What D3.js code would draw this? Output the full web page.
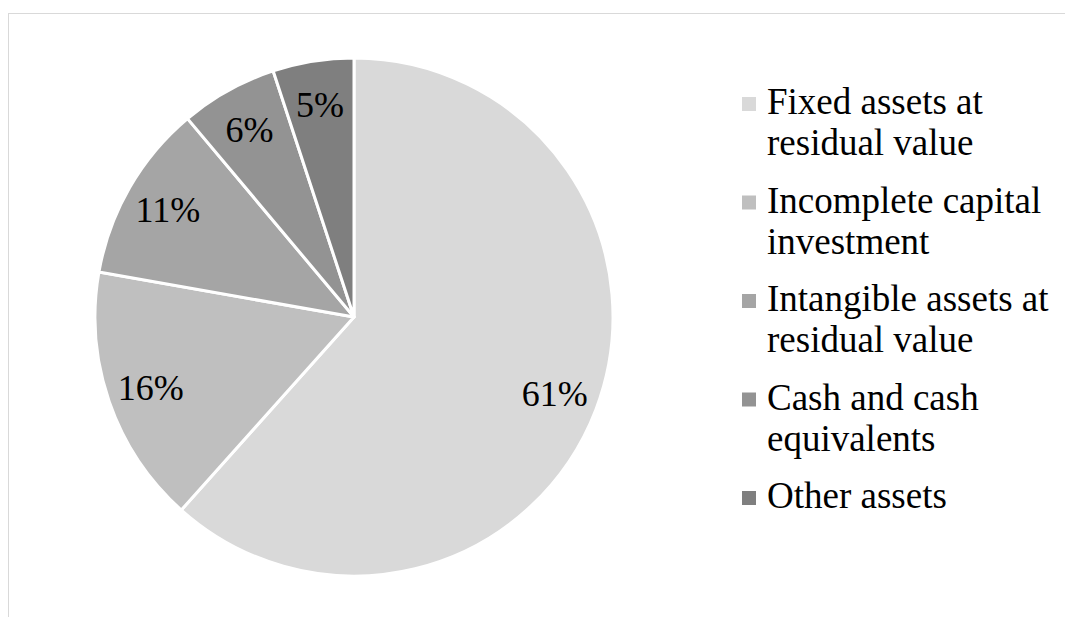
<!DOCTYPE html>
<html>
<head>
<meta charset="utf-8">
<script src="https://cdn.jsdelivr.net/npm/d3@7/dist/d3.min.js"></script>
<style>
  html, body { margin: 0; padding: 0; background: #fff; }
  svg { display: block; }
  svg text { font-family: "Liberation Serif", "Times New Roman", Tinos, "DejaVu Serif", serif; }
</style>
</head>
<body>
<svg id="chart" width="1065" height="617"></svg>
<script>
// Asset structure, share of total (%)
const categories = [
  ["Fixed assets at", "residual value"],
  ["Incomplete capital", "investment"],
  ["Intangible assets at", "residual value"],
  ["Cash and cash", "equivalents"],
  ["Other assets"]
];
const values = [61, 16, 11, 6, 5];
const colors = ["#d9d9d9", "#bfbfbf", "#a5a5a5", "#939393", "#7f7f7f"];

const W = 1065, H = 617;
const svg = d3.select("#chart");

// chart area frame (runs off the right and bottom edges)
svg.append("rect")
  .attr("x", 8.5).attr("y", 13.5)
  .attr("width", W + 20).attr("height", H + 20)
  .attr("fill", "none").attr("stroke", "#d9d9d9").attr("stroke-width", 1);

const cx = 354, cy = 317, R = 259;
const data = values.map((v, i) => ({ v, i }));

const pie = d3.pie().value(d => d.v).sort(null);
const arcs = pie(data);
const arc = d3.arc().innerRadius(0).outerRadius(R);
const labelArc = d3.arc().innerRadius(R * 0.83).outerRadius(R * 0.83);

const g = svg.append("g").attr("transform", `translate(${cx},${cy})`);

g.selectAll("path.slice")
  .data(arcs)
  .join("path")
  .attr("class", "slice")
  .attr("d", arc)
  .attr("fill", d => colors[d.data.i])
  .attr("stroke", "#fff")
  .attr("stroke-width", 3)
  .attr("stroke-linejoin", "round");

g.selectAll("text.pct")
  .data(arcs)
  .join("text")
  .attr("class", "pct")
  .attr("transform", d => `translate(${labelArc.centroid(d)})`)
  .attr("text-anchor", "middle")
  .attr("dy", "0.35em")
  .attr("font-size", 36)
  .attr("fill", "#000")
  .text(d => d.data.v + "%");

// legend
const legendX = 742, firstBaseline = 114, itemPitch = 98.5, lineH = 41, sq = 14;
const legend = svg.append("g");
const items = legend.selectAll("g.item")
  .data(categories)
  .join("g")
  .attr("class", "item")
  .attr("transform", (d, i) => `translate(${legendX},${firstBaseline + i * itemPitch})`);

items.append("rect")
  .attr("x", 0).attr("y", -17)
  .attr("width", sq).attr("height", sq)
  .attr("fill", (d, i) => colors[i]);

items.append("text")
  .attr("font-size", 37)
  .attr("fill", "#000")
  .selectAll("tspan")
  .data(d => d)
  .join("tspan")
  .attr("x", 25)
  .attr("y", (d, j) => j * lineH)
  .text(d => d);
</script>
</body>
</html>
